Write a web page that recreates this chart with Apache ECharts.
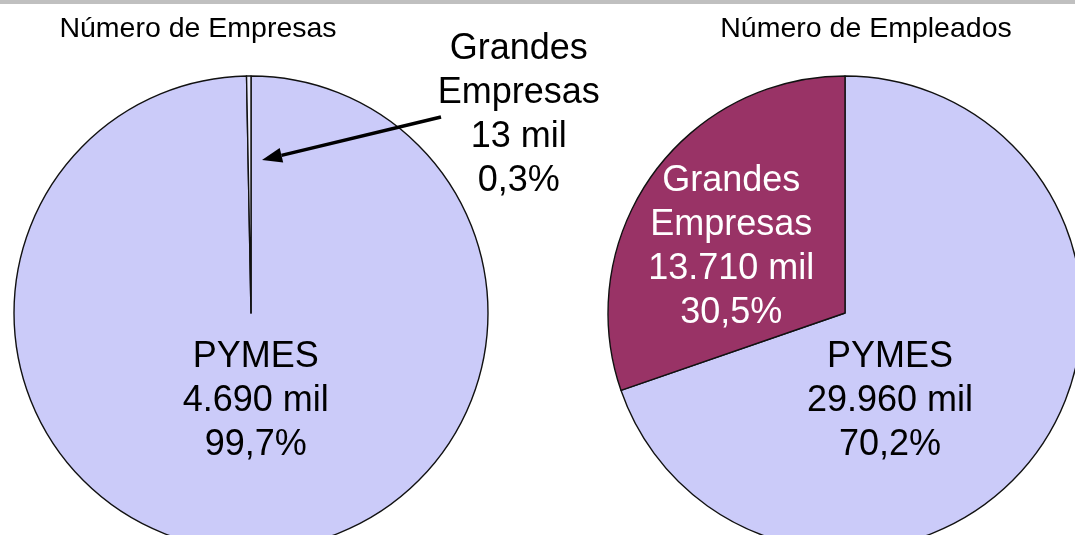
<!DOCTYPE html>
<html>
<head>
<meta charset="utf-8">
<script src="https://cdn.jsdelivr.net/npm/echarts@6/dist/echarts.min.js"></script>
<style>
html,body{margin:0;padding:0;background:#fff;}
#top{position:absolute;left:0;top:0;width:1075px;height:4px;background:#c0c0c0;}
#chart{width:1075px;height:535px;}
</style>
</head>
<body>
<div id="chart"></div>
<div id="top"></div>
<script>
// ---- data ----
var chartTitles = ['Número de Empresas', 'Número de Empleados'];
var categories = ['PYMES', 'Grandes Empresas'];
var empresasMil = ['4.690', '13'];          // miles de empresas
var empresasPct = [99.7, 0.3];              // %
var empleadosMil = ['29.960', '13.710'];    // miles de empleados
var empleadosPct = [70.2, 30.5];            // %

var FONT = 'Liberation Sans, Arial, Helvetica, sans-serif';
var R = 237;
var C1 = [251, 313];
var C2 = [845, 313];
var LAV = '#cbcbf9';
var MAROON = '#993366';

function fmtPct(v){ return String(v).replace('.', ','); }
function labelText(name, mil, pct){
  return name.replace(' ', '\n') + '\n' + mil + ' mil\n' + fmtPct(pct) + '%';
}

var chart = echarts.init(document.getElementById('chart'), null, {renderer:'canvas'});

// label positions (relative to each pie's centre, in radius units)
var leftLabelPos = [[0.02, 0.37], [1.13, -0.835]];
var rightLabelPos = [[0.19, 0.37], [-0.48, -0.28]];

function makeLayout(center, pos){
  return function(p){
    var q = pos[p.dataIndex];
    return {x: center[0] + q[0]*R, y: center[1] + q[1]*R, align:'center', verticalAlign:'middle'};
  };
}

// arrow for tiny slice (relative to left pie centre)
var tail = [C1[0] + 190, C1[1] - 196];
var tip = [C1[0] + 11, C1[1] - 153];
var dx = tip[0]-tail[0], dy = tip[1]-tail[1];
var L = Math.sqrt(dx*dx+dy*dy); var ux = dx/L, uy = dy/L;
var hl = 20, hw = 7.5;
var base = [tip[0]-ux*hl, tip[1]-uy*hl];
var head = [tip, [base[0]-uy*hw, base[1]+ux*hw], [base[0]+uy*hw, base[1]-ux*hw]];

var option = {
  animation: false,
  backgroundColor: '#ffffff',
  title: [
    {text: chartTitles[0], left: 198, top: 15, textAlign:'center', padding:0,
     textStyle:{fontFamily:FONT, fontSize:28.5, fontWeight:'normal', color:'#000'}},
    {text: chartTitles[1], left: 866, top: 15, textAlign:'center', padding:0,
     textStyle:{fontFamily:FONT, fontSize:28.5, fontWeight:'normal', color:'#000'}}
  ],
  series: [
    {
      type:'pie', center: C1, radius: [0, R], startAngle: 90, clockwise: true,
      silent: true, avoidLabelOverlap: false, minAngle: 0,
      itemStyle:{borderColor:'#111', borderWidth:1.4},
      label:{show:true, position:'inside', fontFamily:FONT, fontSize:36, lineHeight:44, color:'#000',
             formatter:function(p){ return labelText(categories[p.dataIndex], empresasMil[p.dataIndex], empresasPct[p.dataIndex]); }},
      labelLine:{show:false},
      labelLayout: makeLayout(C1, leftLabelPos),
      data: [
        {name: categories[0], value: empresasPct[0], itemStyle:{color:LAV}},
        {name: categories[1], value: empresasPct[1], itemStyle:{color:'#ececfc'}}
      ]
    },
    {
      type:'pie', center: C2, radius: [0, R], startAngle: 90, clockwise: true,
      silent: true, avoidLabelOverlap: false,
      itemStyle:{borderColor:'#111', borderWidth:1.4},
      label:{show:true, position:'inside', fontFamily:FONT, fontSize:36, lineHeight:44,
             formatter:function(p){ return labelText(categories[p.dataIndex], empleadosMil[p.dataIndex], empleadosPct[p.dataIndex]); }},
      labelLine:{show:false},
      labelLayout: makeLayout(C2, rightLabelPos),
      data: [
        {name: categories[0], value: empleadosPct[0], itemStyle:{color:LAV}, label:{color:'#000'}},
        {name: categories[1], value: empleadosPct[1], itemStyle:{color:MAROON}, label:{color:'#fff'}}
      ]
    }
  ],
  graphic: [
    {type:'line', shape:{x1:tail[0], y1:tail[1], x2:base[0], y2:base[1]}, style:{stroke:'#000', lineWidth:3.5}, z:100},
    {type:'polygon', shape:{points: head}, style:{fill:'#000'}, z:100}
  ]
};
chart.setOption(option);
</script>
</body>
</html>
